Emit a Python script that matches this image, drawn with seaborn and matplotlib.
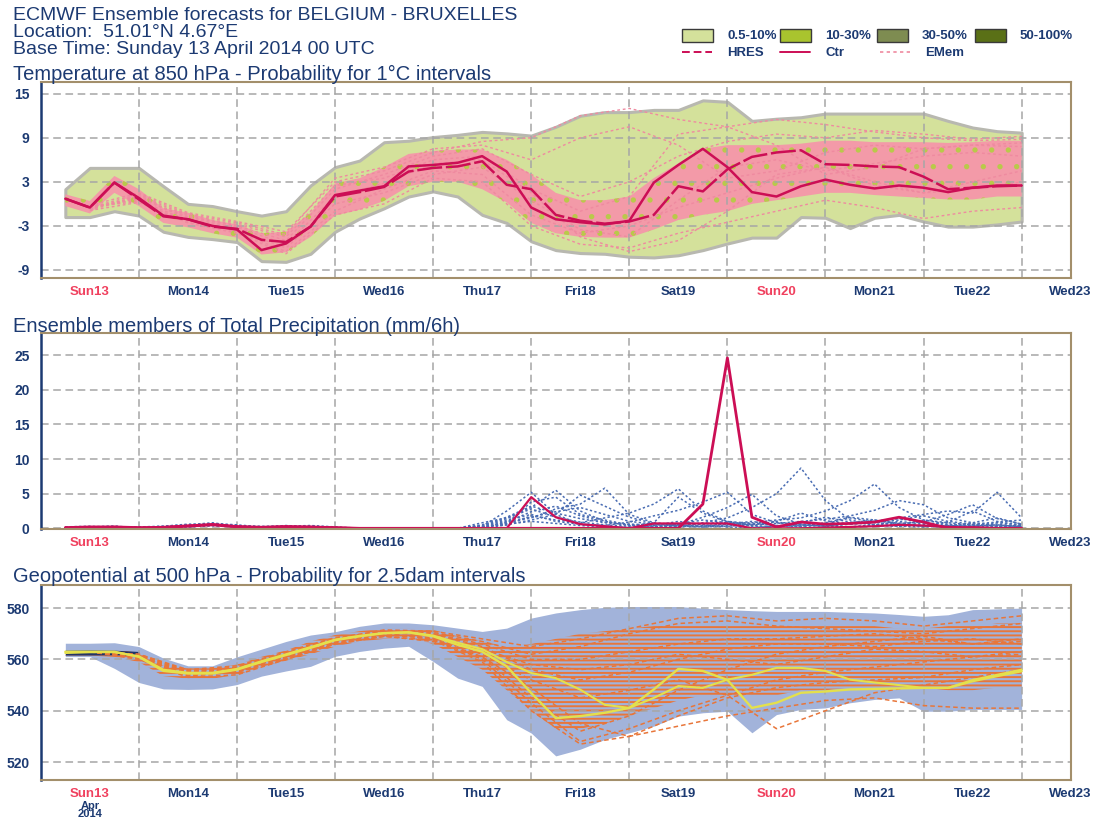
import matplotlib
matplotlib.use("Agg")
import matplotlib.pyplot as plt
from matplotlib.patches import Rectangle
from matplotlib.lines import Line2D
from matplotlib.ticker import FuncFormatter
import pandas as pd
import seaborn as sns

# ---------------------------------------------------------------- data
# forecast steps in hours after base time (Sunday 13 April 2014 00 UTC)
steps = list(range(6, 241, 6))
steps_12 = list(range(12, 241, 12))
day_names = ["Sun13", "Mon14", "Tue15", "Wed16", "Thu17", "Fri18",
             "Sat19", "Sun20", "Mon21", "Tue22", "Wed23"]
weekend_days = ["Sun13", "Sun20"]

# 850 hPa temperature (deg C)
t850_ticks = [-9, -3, 3, 9, 15]
t850_ctr = [0.7, -0.5, 2.9, 0.8, -1.6, -2.1, -3.0, -3.5, -6.3, -5.4,
            -3.1, 1.2, 1.8, 2.4, 5.1, 5.3, 5.6, 6.5, 4.4, -0.5,
            -2.1, -2.5, -2.8, -2.3, 2.9, 5.3, 7.5, 5.0, 1.6, 1.0,
            2.4, 3.3, 2.6, 2.1, 2.5, 2.2, 1.6, 2.2, 2.5, 2.5]
t850_hres = [0.7, -0.5, 2.9, 0.6, -1.7, -2.1, -3.1, -3.4, -4.9, -5.2,
             -3.1, 1.0, 1.6, 2.3, 4.4, 4.9, 5.1, 5.8, 2.6, 2.0,
             -1.5, -2.3, -2.7, -2.4, -1.5, 2.4, 1.7, 4.7, 6.4, 7.0,
             7.3, 5.4, 5.3, 5.1, 5.0, 3.7, 2.0, 2.2, 2.4, 2.5]
# 0.5-10 % probability envelope
t850_lo = [-1.8, -1.8, -1.0, -1.6, -3.8, -4.5, -4.8, -5.2, -7.8, -7.9,
           -6.8, -3.8, -2.0, -0.6, 1.0, 1.7, 1.0, -1.5, -2.6, -5.1,
           -6.3, -6.7, -6.8, -7.2, -7.3, -7.0, -6.3, -5.4, -4.6, -4.6,
           -1.8, -1.9, -3.3, -1.9, -1.5, -2.4, -3.1, -3.1, -2.8, -2.4]
t850_hi = [2.0, 4.9, 4.9, 4.9, 2.4, 0.0, -0.3, -1.0, -1.6, -1.0,
           2.5, 5.0, 5.9, 8.4, 8.6, 9.1, 9.4, 9.8, 9.6, 9.3,
           10.5, 12.0, 12.5, 12.5, 12.8, 12.8, 14.1, 13.9, 11.3, 11.6,
           11.8, 12.3, 12.3, 12.3, 12.3, 12.3, 11.3, 10.4, 9.9, 9.7]
# range where most members lie (10-30 % and above)
t850_core_lo = [-0.3, -1.3, 1.5, -0.3, -2.6, -3.2, -4.0, -4.6, -6.9, -6.6,
                -4.5, -1.6, -0.8, 0.4, 2.4, 3.0, 3.0, 2.0, 0.2, -2.6,
                -4.0, -4.5, -4.6, -4.6, -3.5, -2.2, -1.5, -1.0, 0.0, 0.5,
                1.0, 1.5, 1.5, 1.2, 1.0, 0.8, 0.6, 0.6, 1.0, 1.0]
t850_core_hi = [1.3, 0.4, 3.8, 2.0, -0.6, -1.2, -2.2, -2.8, -4.0, -3.8,
                -1.2, 2.8, 3.5, 5.0, 6.8, 7.2, 7.4, 7.4, 6.0, 4.0,
                1.5, 0.5, 0.5, 1.0, 3.5, 5.5, 7.5, 8.0, 8.0, 8.0,
                8.2, 8.6, 8.6, 8.4, 8.4, 8.4, 8.3, 8.4, 8.6, 8.6]
# individual ensemble members, 12-hourly
t850_members = [
    [-0.2, 1.5, -1.2, -2.4, -3.8, 3.0, 4.5, 7.0, 8.5, 9.0, 12.0, 13.0, 11.5, 10.5, 11.5, 10.8, 9.8, 9.0, 8.6, 8.8],
    [-0.9, 0.2, -2.6, -4.0, -6.8, -1.5, 0.0, 3.5, 3.0, -3.0, -5.5, -6.0, -4.0, -2.5, -1.0, 0.5, -0.5, -2.0, -1.0, -0.5],
    [-0.6, 0.9, -1.8, -3.0, -5.0, 2.0, 4.0, 6.5, 7.5, 4.0, 1.0, 3.0, 6.5, 8.5, 9.5, 9.0, 10.0, 9.5, 8.8, 9.2],
    [-0.3, 0.5, -2.3, -3.6, -6.0, 0.0, 1.5, 4.0, 5.0, 0.5, -3.5, -4.5, 0.5, 5.0, 6.0, 4.5, 5.5, 6.5, 7.0, 6.5],
    [-0.7, 1.1, -1.6, -2.8, -4.5, 2.5, 3.5, 6.0, 6.5, 2.0, -1.0, 1.0, 9.5, 10.5, 8.0, 4.0, 5.0, 7.5, 8.0, 7.8],
    [-0.4, 0.3, -2.5, -3.8, -6.5, -1.0, 2.0, 4.5, 4.0, -1.5, -4.0, -3.0, -0.5, 1.5, 3.5, 5.0, 3.0, 1.5, 2.0, 3.0],
    [-0.8, 0.8, -2.0, -3.2, -5.5, 1.0, 2.8, 5.5, 6.0, 1.5, -4.5, -6.5, -5.0, -1.0, 4.0, 5.0, 2.5, 1.5, 3.0, 4.5],
    [-0.5, 1.3, -1.4, -2.6, -4.2, 3.5, 5.0, 7.5, 8.0, 6.0, 9.0, 10.5, 8.0, 3.5, 4.5, 7.0, 8.0, 7.5, 8.0, 8.3],
]

# total precipitation (mm / 6 h)
tp_ticks = [0, 5, 10, 15, 20, 25]
tp_ctr = [0.1, 0.2, 0.2, 0.1, 0.1, 0.3, 0.5, 0.2, 0.1, 0.2, 0.2, 0.1, 0, 0, 0, 0,
          0, 0, 0, 0, 0, 0, 0, 0, 0, 0, 3.5, 24.6, 1.6, 0.2, 0.9, 0.6,
          0.7, 0.9, 1.6, 0.9, 0, 0.1, 0, 0]
tp_hres = [0.1, 0.1, 0.2, 0.1, 0.2, 0.4, 0.6, 0.3, 0.2, 0.3, 0.2, 0.1, 0, 0, 0, 0,
           0, 0, 0, 4.5, 1.6, 0.6, 0.3, 0, 0.7, 0.7, 0.7, 0.7, 0, 0, 0, 0.1,
           0.2, 0.3, 0.5, 0.4, 0.2, 0.1, 0, 0]
tp_members = [
    [0.1, 0.2, 0.3, 0.1, 0.2, 0.5, 0.8, 0.3, 0.1, 0.2, 0.3, 0.1, 0, 0, 0, 0, 0, 0.3, 2.5, 5.2,
     2.0, 0.6, 0.3, 0.1, 0.4, 1.0, 0.5, 0.2, 0.1, 0.3, 0.6, 0.4, 0.2, 0.5, 0.8, 0.3, 0.2, 0.4, 0.6, 0.3],
    [0.2, 0.1, 0.2, 0.1, 0.3, 0.6, 0.5, 0.2, 0.2, 0.4, 0.2, 0, 0, 0, 0, 0, 0, 0.8, 1.5, 3.0,
     5.5, 2.5, 1.0, 0.4, 0.2, 0.6, 1.2, 0.8, 0.3, 0.2, 0.5, 0.3, 0.8, 1.2, 0.6, 0.3, 0.4, 0.3, 0.5, 0.2],
    [0, 0.2, 0.3, 0, 0.1, 0.3, 0.6, 0.4, 0.1, 0.3, 0.4, 0.2, 0, 0, 0, 0, 0, 0.2, 0.8, 1.5,
     2.8, 3.5, 5.8, 2.0, 0.8, 0.5, 0.3, 0.6, 1.0, 0.4, 0.2, 0.6, 1.5, 0.9, 0.4, 1.2, 0.8, 0.5, 0.3, 0.4],
    [0.1, 0.1, 0.2, 0.1, 0.2, 0.4, 0.7, 0.5, 0.2, 0.1, 0.3, 0.1, 0, 0, 0, 0, 0, 0, 0.5, 1.8,
     1.2, 0.8, 1.5, 2.2, 3.5, 5.7, 2.5, 1.0, 0.4, 0.2, 0.8, 1.6, 0.9, 0.5, 1.0, 0.6, 0.3, 0.8, 1.5, 0.6],
    [0.2, 0.3, 0.1, 0.1, 0.1, 0.2, 0.5, 0.3, 0.3, 0.2, 0.2, 0.1, 0, 0, 0, 0, 0, 0.4, 1.2, 2.0,
     1.0, 0.6, 0.4, 0.9, 1.8, 2.6, 3.8, 5.2, 2.0, 0.8, 0.4, 0.3, 0.6, 1.0, 1.4, 0.8, 0.5, 0.3, 0.2, 0.5],
    [0, 0.1, 0.2, 0.2, 0.3, 0.5, 0.6, 0.2, 0.1, 0.2, 0.1, 0.1, 0, 0, 0, 0, 0, 0.2, 0.6, 1.0,
     0.7, 0.4, 0.2, 0.1, 0.2, 0.3, 0.8, 1.5, 3.0, 5.0, 8.7, 4.0, 1.2, 0.5, 0.3, 0.2, 0.4, 0.6, 0.3, 0.2],
    [0.1, 0.2, 0.2, 0, 0.2, 0.3, 0.4, 0.3, 0.2, 0.3, 0.2, 0, 0, 0, 0, 0, 0, 0.5, 1.6, 3.2,
     2.2, 1.4, 0.8, 0.5, 0.3, 0.2, 0.4, 0.6, 0.8, 1.2, 1.5, 2.5, 4.0, 6.4, 3.0, 1.2, 0.6, 0.4, 0.8, 0.5],
    [0.1, 0.1, 0.1, 0.1, 0.1, 0.4, 0.6, 0.4, 0.1, 0.2, 0.2, 0.1, 0, 0, 0, 0, 0, 0.1, 0.9, 2.4,
     3.2, 1.8, 0.9, 0.6, 0.5, 0.4, 0.2, 0.3, 0.5, 0.7, 1.0, 1.3, 1.8, 2.6, 4.0, 3.4, 1.5, 0.8, 0.4, 0.3],
    [0.2, 0.2, 0.1, 0.1, 0.2, 0.3, 0.5, 0.2, 0.2, 0.1, 0.3, 0.1, 0, 0, 0, 0, 0, 0.3, 1.0, 1.6,
     2.4, 3.0, 2.0, 1.0, 0.6, 0.3, 0.2, 0.4, 0.6, 0.9, 0.5, 0.4, 0.7, 1.0, 1.5, 2.0, 2.5, 2.2, 5.2, 1.5],
    [0.1, 0.2, 0.2, 0.1, 0.1, 0.2, 0.4, 0.3, 0.2, 0.3, 0.2, 0.1, 0, 0, 0, 0, 0, 0.2, 0.7, 3.8,
     4.5, 2.0, 1.2, 0.5, 0.3, 0.5, 1.6, 3.0, 4.9, 1.8, 0.6, 0.3, 0.2, 0.4, 0.3, 0.5, 0.9, 2.5, 1.0, 0.4],
    [0, 0.1, 0.1, 0, 0.2, 0.4, 0.5, 0.2, 0.1, 0.2, 0.1, 0, 0, 0, 0, 0, 0, 0.4, 1.4, 2.8,
     1.6, 0.9, 0.5, 0.3, 0.8, 4.5, 2.2, 0.9, 0.5, 1.0, 2.2, 1.1, 0.6, 0.8, 1.2, 1.8, 1.0, 0.6, 0.9, 1.2],
    [0.1, 0.1, 0.2, 0.1, 0.1, 0.3, 0.4, 0.2, 0.2, 0.2, 0.2, 0.1, 0, 0, 0, 0, 0, 0.2, 0.5, 1.2,
     2.0, 4.8, 3.2, 1.6, 0.7, 0.4, 0.6, 1.0, 0.7, 0.4, 0.3, 0.8, 1.6, 1.2, 0.7, 0.9, 2.0, 3.4, 1.4, 0.6],
]

# 500 hPa geopotential (dam)
z500_ticks = [520, 540, 560, 580]
z500_ctr = [563, 563, 563, 561, 555.5, 554.5, 554.5, 556, 559, 561.7,
            564.5, 567.5, 569, 570.2, 570.5, 569, 565.7, 563, 557.3, 546.9,
            537.1, 537.9, 539.2, 541.1, 548.3, 556.3, 555.5, 552, 541.1, 543.1,
            547, 547.5, 548.3, 548.5, 548.7, 548.9, 548.9, 551.5, 553.5, 555.4]
z500_hres = [562.5, 562.8, 562.8, 561.2, 556, 554.8, 554.8, 556.3, 559.3, 562,
             564.8, 567.7, 569.2, 570.3, 570.6, 569.3, 566.5, 564, 559, 554.7,
             552.7, 548.2, 542.3, 541.1, 545, 549.6, 548.9, 552.1, 554, 556.7,
             556.7, 555.5, 552.1, 551, 550, 548.9, 548.9, 552, 554, 556]
z500_lo = [561.1, 561.1, 556.5, 551, 548.5, 548.3, 548.5, 550.2, 553.5, 555.5,
           557.3, 561.2, 563.1, 564.4, 565.1, 559.2, 552.7, 549.5, 536.5, 531.3,
           522.4, 525, 528.8, 531.4, 534, 537.9, 539.2, 539.8, 531.4, 538.5,
           540.5, 541.1, 543.1, 544.4, 545, 539.8, 539.8, 540.5, 540.5, 540.5]
z500_hi = [566.3, 566.3, 566.5, 565, 560.5, 557.5, 557.5, 561, 564, 567,
           569.5, 570.8, 572.9, 574.2, 574.2, 573.5, 572.2, 570.9, 572.2, 576.1,
           578.1, 579.4, 580.3, 580.6, 580.6, 580.6, 580, 579.4, 579, 578.7,
           578.7, 578.7, 578.4, 578.1, 577.5, 576.8, 577.4, 579.4, 579.7, 580]
z500_core_lo = [561.5, 561.5, 561, 559, 553.5, 552.5, 552.5, 554, 557, 559.5,
                562, 565, 567, 568, 568.5, 566, 561, 556, 548, 540,
                533, 533, 535, 538, 541, 544, 546, 546, 546, 546,
                548, 548, 549, 549, 549, 549, 548, 548, 549, 549]
z500_core_hi = [564, 564, 564, 562.5, 557.5, 556.5, 556.5, 558, 561, 563.5,
                567, 569.5, 571, 572, 572, 571.5, 569, 567, 565, 566,
                568, 570, 571, 572, 573, 573, 573, 573, 573, 573,
                573, 573, 573, 573, 572, 572, 573, 573, 574, 574]
# 50-100 % cluster right after the start
z500_init_lo = [561.7, 561.7, 561.8, 561.6]
z500_init_hi = [563.6, 563.7, 563.6, 563.1]
z500_members = [
    [563, 562, 556, 557.5, 563, 568.5, 571, 570.5, 567, 562, 565, 570, 574, 575, 573, 572, 571, 570, 572, 574],
    [563, 560, 553, 554, 560, 566, 569, 567, 561, 549, 535, 530, 534, 538, 541, 544, 545, 542, 541, 541],
    [563, 561, 555, 556.5, 562, 568, 571, 570, 565, 556, 552, 555, 560, 564, 566, 566, 565, 567, 568, 566],
    [563, 561, 554, 555.5, 561, 567, 570, 568, 560, 543, 528, 533, 540, 546, 552, 555, 557, 559, 561, 562],
    [563, 562, 555.5, 557, 562.5, 568, 571.5, 571, 568, 565, 568, 572, 576, 577, 575, 576, 575, 573, 575, 577],
    [563, 560.5, 553.5, 555, 560.5, 566.5, 569.5, 568.5, 562, 552, 545, 548, 552, 546, 533, 540, 547, 550, 553, 556],
    [563, 561.5, 555, 556, 561.5, 567.5, 570.5, 569.5, 564, 558, 556, 558, 562, 560, 558, 561, 564, 563, 561, 563],
    [563, 561, 554.5, 556, 561, 567, 570, 568, 561, 545, 532, 538, 548, 556, 562, 565, 567, 569, 566, 568],
    [563, 561.5, 555.5, 556.5, 562, 568, 571, 570, 566, 560, 560, 563, 566, 568, 568, 569, 570, 568, 566, 567],
    [563, 560.5, 554, 555, 560, 566, 569, 567.5, 559, 540, 527, 530, 538, 545, 549, 551, 552, 553, 556, 558],
]

legend_boxes = ["0.5-10%", "10-30%", "30-50%", "50-100%"]
legend_lines = ["HRES", "Ctr", "EMem"]

# ---------------------------------------------------------------- style
NAVY = "#1c3a72"
RED_DAY = "#f0405e"
FRAME = "#a38f6b"
GRID = "#a6a6a6"
CRIMSON = "#cc0e55"
GREEN_1, GREEN_2, GREEN_3, GREEN_4 = "#d4e19b", "#a9c42e", "#7e8c51", "#5a7016"
PINK_LINE, PINK_FILL = "#ef8aa0", "#f39aa8"
BLUE_LINE = "#4a6db3"
GEO_LIGHT, GEO_DARK = "#a2b3da", "#233466"
ORANGE, YELLOW = "#e8763a", "#e4e04c"

sns.set_theme(style="white")
plt.rcParams["font.family"] = ["Liberation Sans", "DejaVu Sans"]
plt.rcParams["hatch.linewidth"] = 1.4

W, H = 1106, 821
fig = plt.figure(figsize=(W / 100, H / 100), dpi=100)


def fx(x):
    return x / W


def fy(y):
    return 1 - y / H


def panel(top, bottom):
    return fig.add_axes([fx(40.8), fy(bottom), (1070.7 - 40.8) / W, (bottom - top) / H])


def days(hours):
    return [h / 24 for h in hours]


def add_members(ax, hours, members, color, ls, lw):
    frame = pd.DataFrame(
        [(m, h / 24, v) for m, series in enumerate(members) for h, v in zip(hours, series)],
        columns=["member", "day", "value"],
    )
    sns.lineplot(data=frame, x="day", y="value", units="member", estimator=None,
                 color=color, lw=lw, linestyle=ls, ax=ax, legend=False, sort=False, zorder=3)


def style_axes(ax, yticks, ylim):
    ax.set_xlim(0, 10.5)
    ax.set_ylim(*ylim)
    ax.set_xlabel("")
    ax.set_ylabel("")
    ax.set_xticks(range(0, 11))
    ax.set_xticklabels([""] * 11)
    ax.set_xticks([q / 4 for q in range(43) if q % 4], minor=True)
    ax.xaxis.set_minor_formatter(FuncFormatter(
        lambda x, pos: day_names[int(x)] if abs(x - int(x) - 0.5) < 1e-6 else ""))
    ax.set_yticks(yticks)
    ax.set_yticklabels([str(t) for t in yticks])
    ax.set_axisbelow(False)
    ax.grid(True, which="major", color=GRID, linestyle=(0, (5, 3)), linewidth=1.1)
    ax.tick_params(axis="x", which="major", length=7, width=1.3, color=NAVY, direction="out")
    ax.tick_params(axis="x", which="minor", length=4, width=1.3, color=NAVY, direction="out",
                   labelsize=9.5, labelcolor=NAVY, pad=1.5)
    ax.tick_params(axis="y", which="major", length=6, width=1.3, color=NAVY, direction="out",
                   labelsize=10, labelcolor=NAVY, pad=2)
    for side in ("top", "right", "bottom"):
        ax.spines[side].set_color(FRAME)
        ax.spines[side].set_linewidth(1.5)
        ax.spines[side].set_visible(True)
        ax.spines[side].set_zorder(6)
    ax.spines["left"].set_color(NAVY)
    ax.spines["left"].set_linewidth(1.8)
    ax.spines["left"].set_visible(True)
    ax.spines["left"].set_zorder(6)


x6 = days(steps)
x12 = days(steps_12)

# ---------------------------------------------------------------- temperature
ax1 = panel(82, 278)
ax1.fill_between(x6, t850_lo, t850_hi, facecolor=GREEN_1, edgecolor="#b8b8b0", lw=2.2, zorder=1)
ax1.fill_between(x6, t850_core_lo, t850_core_hi, facecolor=PINK_FILL, edgecolor="#b9c94a",
                 hatch=".", lw=0, zorder=1.5)
add_members(ax1, steps_12, t850_members, PINK_LINE, (0, (2, 2)), 1.0)
sns.lineplot(x=x6, y=t850_hres, color=CRIMSON, lw=1.8, linestyle=(0, (10, 1.5)), ax=ax1, zorder=4)
sns.lineplot(x=x6, y=t850_ctr, color=CRIMSON, lw=1.8, ax=ax1, zorder=4)
style_axes(ax1, t850_ticks, (-10.1, 16.6))

# ---------------------------------------------------------------- precipitation
ax2 = panel(333, 529)
add_members(ax2, steps, tp_members, BLUE_LINE, (0, (1.5, 1.5)), 1.1)
sns.lineplot(x=x6, y=tp_hres, color=CRIMSON, lw=1.6, ax=ax2, zorder=4)
sns.lineplot(x=x6, y=tp_ctr, color=CRIMSON, lw=2.0, ax=ax2, zorder=4)
style_axes(ax2, tp_ticks, (-0.1, 28.2))

# ---------------------------------------------------------------- geopotential
ax3 = panel(585, 780)
ax3.fill_between(x6, z500_lo, z500_hi, facecolor=GEO_LIGHT, lw=0, zorder=1)
ax3.fill_between(x6, z500_core_lo, z500_core_hi, facecolor="none", edgecolor=ORANGE,
                 hatch="----", lw=0, zorder=1.5)
ax3.fill_between(x6[:4], z500_init_lo, z500_init_hi, facecolor=GEO_DARK, lw=0, zorder=1.6)
add_members(ax3, steps_12, z500_members, ORANGE, (0, (3, 2)), 1.1)
sns.lineplot(x=x6, y=z500_hres, color=YELLOW, lw=1.5, ax=ax3, zorder=4)
sns.lineplot(x=x6, y=z500_ctr, color=YELLOW, lw=1.7, ax=ax3, zorder=4)
style_axes(ax3, z500_ticks, (513, 589))
ax3.annotate("Apr\n2014", xy=(0.5, 0), xycoords=("data", "axes fraction"),
             xytext=(0, -15.2), textcoords="offset points", ha="center", va="top",
             fontsize=8, fontweight="bold", color=NAVY, linespacing=0.72,
             annotation_clip=False)

# ---------------------------------------------------------------- texts
header = ["ECMWF Ensemble forecasts for BELGIUM - BRUXELLES",
          "Location:  51.01°N 4.67°E",
          "Base Time: Sunday 13 April 2014 00 UTC"]
for line, base in zip(header, (20, 37, 54)):
    fig.text(fx(13), fy(base), line, fontsize=14, color=NAVY, va="baseline", ha="left")

titles = [("Temperature at 850 hPa - Probability for 1°C intervals", 80),
          ("Ensemble members of Total Precipitation (mm/6h)", 332),
          ("Geopotential at 500 hPa - Probability for 2.5dam intervals", 582)]
for text, base in titles:
    fig.text(fx(13), fy(base), text, fontsize=14.5, color=NAVY, va="baseline", ha="left")

# ---------------------------------------------------------------- legend
box_colors = [GREEN_1, GREEN_2, GREEN_3, GREEN_4]
box_x = [682, 780, 877, 975]
for label, color, x0 in zip(legend_boxes, box_colors, box_x):
    fig.text(fx(x0 + 45), fy(36), label, fontsize=9.5, fontweight="bold",
             color=NAVY, va="center", ha="left", zorder=1)
    fig.add_artist(Rectangle((fx(x0), fy(42.5)), 31 / W, 13 / H, transform=fig.transFigure,
                             facecolor=color, edgecolor="#3a3a3a", lw=1.0, zorder=2))

line_styles = [(CRIMSON, (0, (4, 2)), 1.4), (CRIMSON, "-", 1.4), (PINK_LINE, (0, (2, 2)), 1.2)]
line_x = [682, 780, 880]
for label, (color, ls, lw), x0 in zip(legend_lines, line_styles, line_x):
    fig.add_artist(Line2D([fx(x0), fx(x0 + 30)], [fy(52.5), fy(52.5)], transform=fig.transFigure,
                          color=color, linestyle=ls, lw=lw))
    fig.text(fx(x0 + 45), fy(52.5), label, fontsize=9.5, fontweight="bold",
             color=NAVY, va="center", ha="left")

# ---------------------------------------------------------------- tick label fonts
fig.canvas.draw()
for ax in (ax1, ax2, ax3):
    for lbl in ax.get_xticklabels(minor=True) + ax.get_yticklabels():
        lbl.set_fontweight("bold")
        if lbl.get_text() in weekend_days:
            lbl.set_color(RED_DAY)

fig.savefig("out.png", dpi=100)
